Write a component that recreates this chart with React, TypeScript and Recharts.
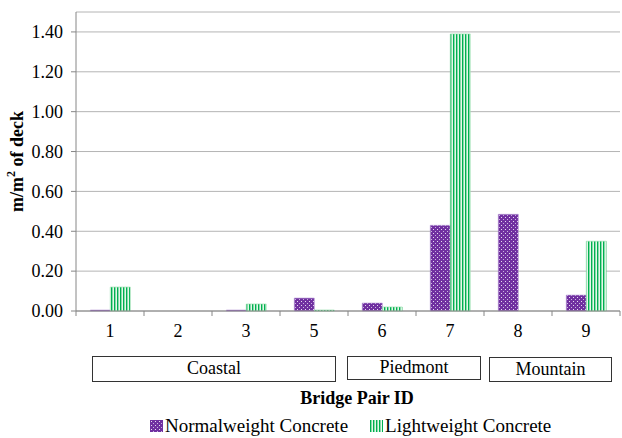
import { BarChart, Bar, XAxis, YAxis, CartesianGrid } from "recharts";

// Bridge pair IDs (no pair 4) and crack length per deck area
const pairIds = ["1", "2", "3", "5", "6", "7", "8", "9"];
const normalweight = [0.005, 0, 0.005, 0.065, 0.04, 0.43, 0.485, 0.08];
const lightweight = [0.12, 0, 0.035, 0.005, 0.02, 1.39, 0, 0.35];
const yTicks = [0, 0.2, 0.4, 0.6, 0.8, 1.0, 1.2, 1.4];

const regions = [
  { name: "Coastal", left: 92, width: 244, top: 356, height: 26 },
  { name: "Piedmont", left: 347, width: 134, top: 356, height: 24 },
  { name: "Mountain", left: 489, width: 123, top: 357, height: 25 },
];

const data = pairIds.map((id, i) => ({
  id,
  normal: normalweight[i],
  light: lightweight[i],
}));

const FONT = '"Liberation Serif", serif';
const AXIS = "#868686";

const XTick = (props: any) => {
  const { x, y, payload, index } = props;
  const off = payload && payload.offset ? payload.offset : 34;
  return (
    <g>
      <line x1={x - off} x2={x - off} y1={y - 13} y2={y - 8} stroke={AXIS} />
      {index === pairIds.length - 1 && (
        <line x1={x + off} x2={x + off} y1={y - 13} y2={y - 8} stroke={AXIS} />
      )}
      <text x={x} y={y} dy="0.71em" textAnchor="middle" fontSize={18} fill="#000" fontFamily={FONT}>
        {payload.value}
      </text>
    </g>
  );
};

const YTick = (props: any) => {
  const { x, y, payload } = props;
  return (
    <text x={x} y={y} dy="0.35em" textAnchor="end" fontSize={18} fill="#000" fontFamily={FONT}>
      {Number(payload.value).toFixed(2)}
    </text>
  );
};

const YLabel = (props: any) => {
  const vb = props.viewBox || { y: 12, height: 299 };
  const cy = vb.y + vb.height / 2;
  return (
    <text
      x={17}
      y={cy}
      transform={`rotate(-90, 17, ${cy})`}
      textAnchor="middle"
      dominantBaseline="central"
      fontSize={18}
      fontWeight="bold"
      fontFamily={FONT}
      fill="#000"
    >
      m/m<tspan dy={-6} fontSize={12}>2</tspan>
      <tspan dy={6}> of deck</tspan>
    </text>
  );
};

function Patterns() {
  return (
    <defs>
      <pattern id="dots" width="4" height="4" patternUnits="userSpaceOnUse">
        <rect width="4" height="4" fill="#7030A0" />
        <rect x="1" y="1" width="1" height="1" fill="#e6dcf0" />
        <rect x="3" y="3" width="1" height="1" fill="#c9b3df" />
      </pattern>
      <pattern id="stripes" width="3" height="4" patternUnits="userSpaceOnUse">
        <rect width="3" height="4" fill="#e4f7e9" />
        <rect x="0" width="1.4" height="4" fill="#00B050" />
      </pattern>
    </defs>
  );
}

const LegendIcon = ({ kind }: { kind: string }) => (
  <svg width={13} height={12} style={{ marginRight: 2 }}>
    <rect width={13} height={12} fill={kind === "dots" ? "url(#dots)" : "url(#stripes)"} />
  </svg>
);

export default function App() {
  return (
    <div
      style={{
        position: "absolute",
        left: 0,
        top: 0,
        width: 622,
        height: 438,
        background: "#fff",
        fontFamily: FONT,
        color: "#000",
      }}
    >
      <BarChart
        width={622}
        height={340}
        data={data}
        margin={{ top: 12, right: 2, bottom: 0, left: 0 }}
        barCategoryGap="21%"
        barGap={0}
      >
        <Patterns />
        <CartesianGrid vertical={false} stroke="#b4b4b4" />
        <XAxis
          dataKey="id"
          height={29}
          stroke={AXIS}
          tickLine={false}
          tickSize={5}
          tickMargin={8}
          tick={<XTick />}
          interval={0}
        />
        <YAxis
          width={76}
          domain={[0, 1.5]}
          ticks={yTicks}
          stroke={AXIS}
          tickSize={5}
          tickMargin={8}
          tick={<YTick />}
          label={<YLabel />}
        />
        <Bar dataKey="normal" fill="url(#dots)" stroke="#b99ad6" strokeWidth={0.6} isAnimationActive={false} />
        <Bar dataKey="light" fill="url(#stripes)" stroke="#8fdca6" strokeWidth={0.6} isAnimationActive={false} />
      </BarChart>

      {regions.map((r) => (
        <div
          key={r.name}
          style={{
            position: "absolute",
            left: r.left,
            top: r.top,
            width: r.width,
            height: r.height,
            boxSizing: "border-box",
            border: "1.5px solid #333",
            fontSize: 18,
            lineHeight: `${r.height - 3}px`,
            textAlign: "center",
            fontFamily: FONT,
          }}
        >
          {r.name}
        </div>
      ))}

      <div
        style={{
          position: "absolute",
          left: 0,
          width: 714,
          top: 388,
          textAlign: "center",
          fontWeight: "bold",
          fontSize: 18,
          fontFamily: FONT,
        }}
      >
        Bridge Pair ID
      </div>

      <div
        style={{
          position: "absolute",
          left: 150,
          top: 415,
          fontSize: 19,
          whiteSpace: "nowrap",
          display: "flex",
          alignItems: "center",
          fontFamily: FONT,
        }}
      >
        <LegendIcon kind="dots" />
        <span>Normalweight Concrete</span>
        <span style={{ width: 22 }} />
        <LegendIcon kind="stripes" />
        <span>Lightweight Concrete</span>
      </div>
    </div>
  );
}
